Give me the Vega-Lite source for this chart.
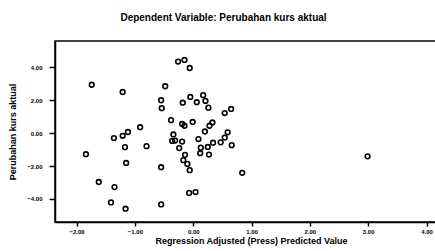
{
  "$schema": "https://vega.github.io/schema/vega-lite/v6.json",
  "autosize": {"type": "none"},
  "padding": {"left": 55, "top": 41, "right": 0, "bottom": 29},
  "width": 389,
  "height": 181,
  "background": "white",
  "title": {
    "text": "Dependent Variable: Perubahan kurs aktual",
    "font": "Liberation Sans",
    "fontSize": 10,
    "fontWeight": "bold",
    "color": "black",
    "anchor": "middle",
    "dx": -26,
    "offset": 18
  },
  "data": {
    "values": [
      {"x": -1.74, "y": 2.94}, {"x": -1.21, "y": 2.50}, {"x": -0.48, "y": 2.85},
      {"x": -0.26, "y": 4.35}, {"x": -0.15, "y": 4.45}, {"x": -0.06, "y": 3.96},
      {"x": -0.55, "y": 2.00}, {"x": -0.54, "y": 1.52}, {"x": -0.18, "y": 1.85},
      {"x": -0.05, "y": 2.20}, {"x": 0.06, "y": 1.88}, {"x": 0.17, "y": 2.31},
      {"x": 0.21, "y": 1.96}, {"x": 0.26, "y": 1.55}, {"x": 0.54, "y": 1.22},
      {"x": 0.65, "y": 1.47}, {"x": -0.38, "y": 0.79}, {"x": -0.19, "y": 0.56},
      {"x": -0.15, "y": 0.45}, {"x": -0.01, "y": 0.68}, {"x": 0.33, "y": 0.65},
      {"x": 0.28, "y": 0.45}, {"x": 0.20, "y": 0.10}, {"x": 0.59, "y": 0.05},
      {"x": 0.54, "y": -0.27}, {"x": 0.47, "y": -0.56}, {"x": 0.66, "y": -0.73},
      {"x": 0.34, "y": -0.58}, {"x": 0.25, "y": -0.84}, {"x": 0.13, "y": -0.88},
      {"x": 0.27, "y": -1.30}, {"x": 0.12, "y": -1.22}, {"x": 0.09, "y": -0.36},
      {"x": -0.34, "y": -0.08}, {"x": -0.36, "y": -0.47}, {"x": -0.31, "y": -0.45},
      {"x": -0.19, "y": -0.51}, {"x": -0.24, "y": -0.91}, {"x": -0.80, "y": -0.79},
      {"x": -0.91, "y": 0.36}, {"x": -0.14, "y": -1.32}, {"x": -0.17, "y": -1.64},
      {"x": -0.10, "y": -1.87}, {"x": -0.06, "y": -2.25}, {"x": -0.55, "y": -2.07},
      {"x": 0.84, "y": -2.41}, {"x": -0.07, "y": -3.63}, {"x": 0.04, "y": -3.58},
      {"x": 2.99, "y": -1.41}, {"x": -1.12, "y": 0.07}, {"x": -1.21, "y": -0.16},
      {"x": -1.36, "y": -0.30}, {"x": -1.17, "y": -0.85}, {"x": -1.84, "y": -1.28},
      {"x": -1.15, "y": -1.81}, {"x": -1.62, "y": -2.97}, {"x": -1.35, "y": -3.28},
      {"x": -1.41, "y": -4.21}, {"x": -1.16, "y": -4.59}, {"x": -0.55, "y": -4.33}
    ]
  },
  "mark": {"type": "point", "shape": "circle", "filled": false, "color": "black", "size": 22, "strokeWidth": 1.6, "opacity": 1},
  "encoding": {
    "x": {
      "field": "x", "type": "quantitative",
      "scale": {"domain": [-2.37, 4.3], "nice": false, "zero": false},
      "axis": {
        "title": "Regression Adjusted (Press) Predicted Value",
        "values": [-2, -1, 0, 1, 2, 3, 4],
        "format": ".2f",
        "grid": false,
        "labelFontSize": 6, "labelFont": "Liberation Sans", "labelFontWeight": "bold", "labelColor": "black",
        "titleFontSize": 9, "titleFont": "Liberation Sans", "titleFontWeight": "bold", "titleColor": "black",
        "titleX": 196,
        "domainColor": "black", "domainWidth": 1.5, "tickColor": "black", "tickWidth": 1.5, "tickSize": 4,
        "labelPadding": 2, "titlePadding": 2
      }
    },
    "y": {
      "field": "y", "type": "quantitative",
      "scale": {"domain": [-5.4, 5.6], "nice": false, "zero": false},
      "axis": {
        "title": "Perubahan kurs aktual",
        "values": [-4, -2, 0, 2, 4],
        "format": ".2f",
        "grid": false,
        "labelFontSize": 6, "labelFont": "Liberation Sans", "labelFontWeight": "bold", "labelColor": "black",
        "titleFontSize": 9, "titleFont": "Liberation Sans", "titleFontWeight": "bold", "titleColor": "black",
        "domainColor": "black", "domainWidth": 1.5, "tickColor": "black", "tickWidth": 1.5, "tickSize": 6,
        "labelPadding": 7, "titlePadding": 9
      }
    }
  },
  "config": {
    "view": {"stroke": "black", "strokeWidth": 1.5}
  }
}
